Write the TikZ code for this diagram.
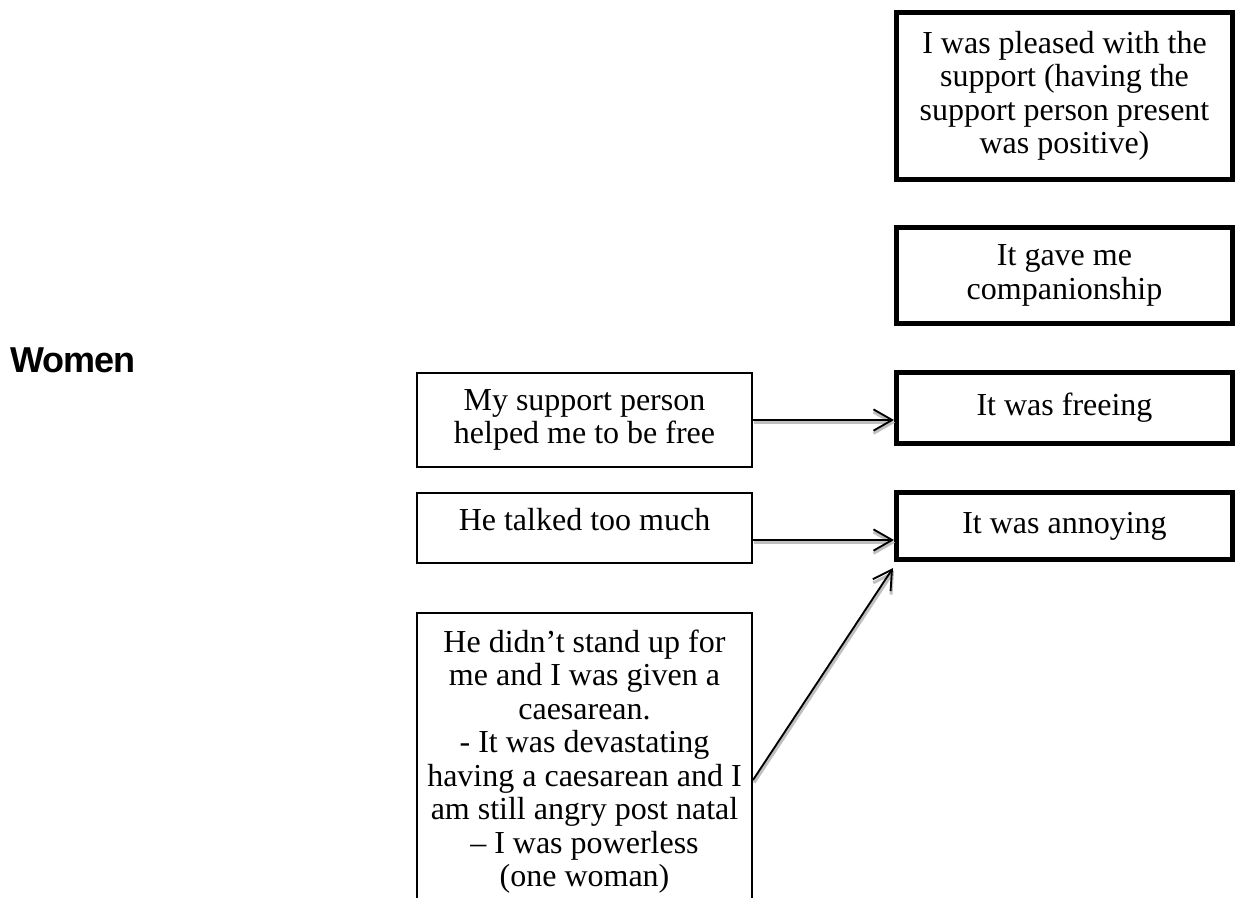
\documentclass[tikz,border=0pt]{standalone}
\usepackage{fontspec}
\setmainfont{Liberation Serif}
\newfontfamily\headfont[LetterSpace=-3]{Liberation Sans}
\usetikzlibrary{arrows.meta,calc}

\begin{document}
\begin{tikzpicture}[x=0.75pt,y=-0.75pt,
  every node/.style={font=\fontsize{24}{25.1}\selectfont, align=center, inner sep=0pt},
  outcome/.style={draw, line width=3.75pt, minimum width=252pt},
  reason/.style={draw, line width=1.5pt, minimum width=251.25pt},
  arr/.style={line width=1.4pt, -{Straight Barb[length=14pt,width=16pt]}},
  shade/.style={draw=black!25, line width=2.2pt, -{Straight Barb[length=14pt,width=16pt]},
    transform canvas={shift={(0.8pt,-2pt)}}}
]
\useasboundingbox (0,0) rectangle (1236,897);
\clip (0,0) rectangle (1236,897);

% heading
\node[font=\headfont\bfseries\fontsize{27}{30}\selectfont, anchor=base west] (W) at (10,372) {Women};

% outcomes (right column)
\node[outcome, minimum height=125.25pt] (A) at (1064.5,96)
  {I was pleased with the\\support (having the\\support person present\\was positive)};
\node[outcome, minimum height=72pt] (B) at (1064.5,275.5) {It gave me\\companionship};
\node[outcome, minimum height=53.25pt] (C) at (1064.5,408) {It was freeing};
\node[outcome, minimum height=50.25pt] (D) at (1064.5,526) {It was annoying};

% reasons (middle column)
\node[reason, minimum height=70.5pt] (E) at (584.5,420) {My support person\\helped me to be free};
\node[reason, minimum height=52.5pt, text depth=13.5pt] (F) at (584.5,528) {He talked too much};
\node[reason, minimum height=222.75pt] (G) at (584.5,761.5)
  {He didn’t stand up for\\me and I was given a\\caesarean.\\- It was devastating\\having a caesarean and I\\am still angry post natal\\– I was powerless\\(one woman)};

% connectors
\coordinate (f1) at ($(F.east)+(0,12)$);
\coordinate (g1) at ($(G.east)+(0,18.5)$);
\coordinate (d1) at ($(D.south west)+(-1,6)$);

\draw[shade] (E.east) -- (E.east -| C.west);
\draw[arr] (E.east) -- (E.east -| C.west);
\draw[shade] (f1) -- (f1 -| D.west);
\draw[arr] (f1) -- (f1 -| D.west);
\draw[shade] (g1) -- (d1);
\draw[arr] (g1) -- (d1);
\end{tikzpicture}
\end{document}
